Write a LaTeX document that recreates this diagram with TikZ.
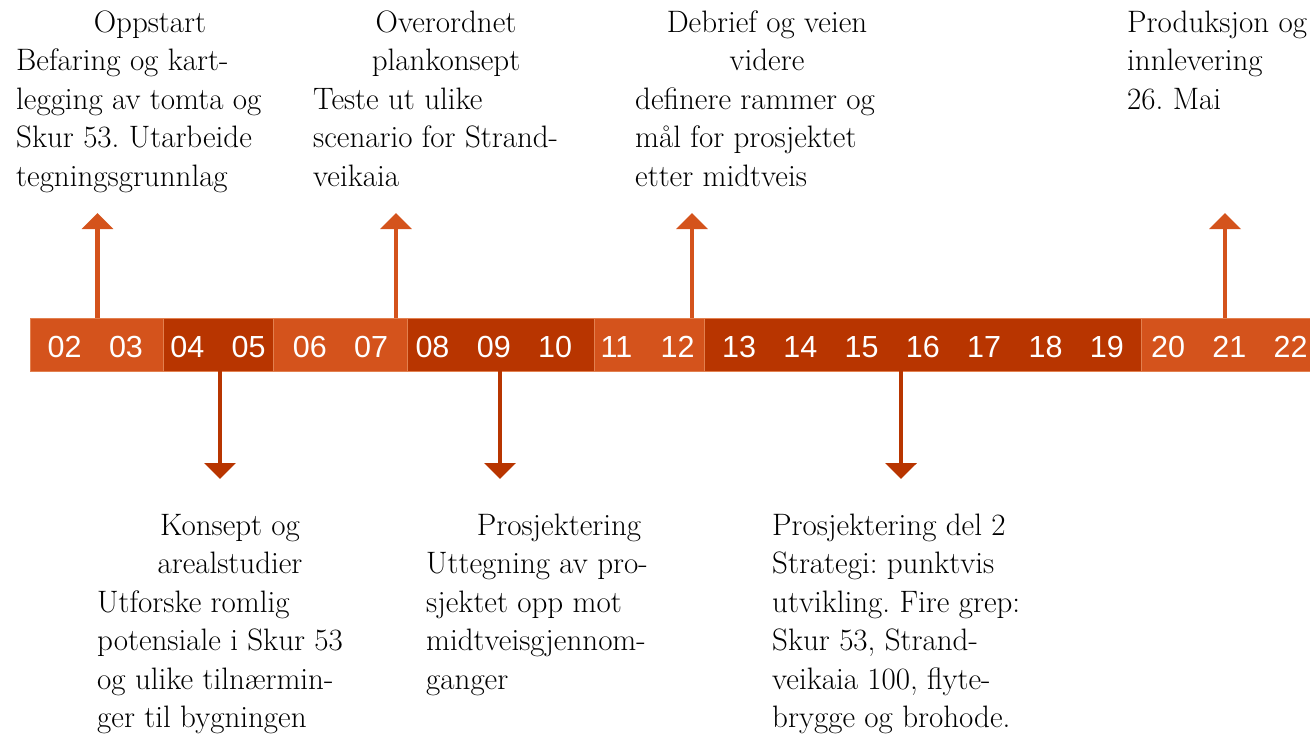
\documentclass[tikz,border=0pt]{standalone}
\usepackage{fontspec}
\newfontfamily\numfont{Liberation Sans}
\usetikzlibrary{arrows.meta}
\frenchspacing
\definecolor{lightor}{HTML}{D4531C}
\definecolor{darkor}{HTML}{B83500}
\definecolor{segline}{HTML}{E2804F}
\tikzset{
  seg/.style={draw=segline, line width=0.7pt, minimum height=53pt, inner sep=0pt, outer sep=0pt, anchor=north west},
  num/.style={font=\numfont\fontsize{30.5}{30.5}\selectfont, text=white, anchor=base, inner sep=0pt},
  ttl/.style={font=\fontsize{31}{38.5}\selectfont, anchor=base, inner sep=0pt},
  ttlleft/.style={font=\fontsize{31}{38.5}\selectfont, anchor=base west, inner sep=0pt},
  body/.style={font=\fontsize{31}{38.5}\selectfont, align=left, anchor=base west, inner sep=0pt},
  uparr/.style={draw=lightor, line width=4.6pt, -{Triangle[length=16pt,width=31pt]}},
  downarr/.style={draw=darkor, line width=4.6pt, -{Triangle[length=16pt,width=31pt]}},
}
\begin{document}
\begin{tikzpicture}[x=1pt,y=-1pt]
\useasboundingbox (0,0) rectangle (1310,737);
% bar segments
\node[seg, fill=lightor, minimum width=132.3pt] (s1) at (30.7,318) {};
\node[seg, fill=darkor,  minimum width=110pt]   (s2) at (163,318) {};
\node[seg, fill=lightor, minimum width=134pt]   (s3) at (273,318) {};
\node[seg, fill=darkor,  minimum width=187pt]   (s4) at (407,318) {};
\node[seg, fill=lightor, minimum width=110pt]   (s5) at (594,318) {};
\node[seg, fill=darkor,  minimum width=437pt]   (s6) at (704,318) {};
\node[seg, fill=lightor, minimum width=190pt]   (s7) at (1141,318) {};
% numbers
\foreach \n [count=\i from 0] in {02,03,04,05,06,07,08,09,10,11,12,13,14,15,16,17,18,19,20,21,22}
  \node[num] (n\n) at ({64.7+61.3*\i},357) {\n};
% arrow coordinates
\coordinate (u1b) at (97.5,318);  \coordinate (u1t) at (97.5,213);
\coordinate (u2b) at (396,318);   \coordinate (u2t) at (396,213);
\coordinate (u3b) at (692,318);   \coordinate (u3t) at (692,213);
\coordinate (u4b) at (1225,318);  \coordinate (u4t) at (1225,213);
\coordinate (d1b) at (220,371);   \coordinate (d1t) at (220,479);
\coordinate (d2b) at (500,371);   \coordinate (d2t) at (500,479);
\coordinate (d3b) at (901,371);   \coordinate (d3t) at (901,479);
\draw[uparr] (u1b) -- (u1t);
\draw[uparr] (u2b) -- (u2t);
\draw[uparr] (u3b) -- (u3t);
\draw[uparr] (u4b) -- (u4t);
\draw[downarr] (d1b) -- (d1t);
\draw[downarr] (d2b) -- (d2t);
\draw[downarr] (d3b) -- (d3t);
% top texts (body nodes are anchored at the baseline of their last line)
\node[ttl] (t1) at (150,32) {Oppstart};
\node[body] (b1) at (16,186) {Befaring og kart-\\legging av tomta og\\Skur 53. Utarbeide\\tegningsgrunnlag};
\node[ttl] (t2a) at (446,32) {Overordnet};
\node[ttl] (t2b) at (446,70.5) {plankonsept};
\node[body] (b2) at (313,186) {Teste ut ulike\\scenario for Strand-\\veikaia};
\node[ttl] (t3a) at (767,32) {Debrief og veien};
\node[ttl] (t3b) at (767,70.5) {videre};
\node[body] (b3) at (635,186) {definere rammer og\\mål for prosjektet\\etter midtveis};
\node[ttlleft] (t4) at (1127,32) {Produksjon og};
\node[body] (b4) at (1127,109) {innlevering\\26. Mai};
% bottom texts
\node[ttl] (t5a) at (230,535) {Konsept og};
\node[ttl] (t5b) at (230,573.5) {arealstudier};
\node[body] (b5) at (97,727.5) {Utforske romlig\\potensiale i Skur 53\\og ulike tilnærmin-\\ger til bygningen};
\node[ttl] (t6) at (559,535) {Prosjektering};
\node[body] (b6) at (426,689) {Uttegning av pro-\\sjektet opp mot\\midtveisgjennom-\\ganger};
\node[ttlleft] (t7) at (772,535) {Prosjektering del 2};
\node[body] (b7) at (772,727.5) {Strategi: punktvis\\utvikling. Fire grep:\\Skur 53, Strand-\\veikaia 100, flyte-\\brygge og brohode.};
\end{tikzpicture}
\end{document}
